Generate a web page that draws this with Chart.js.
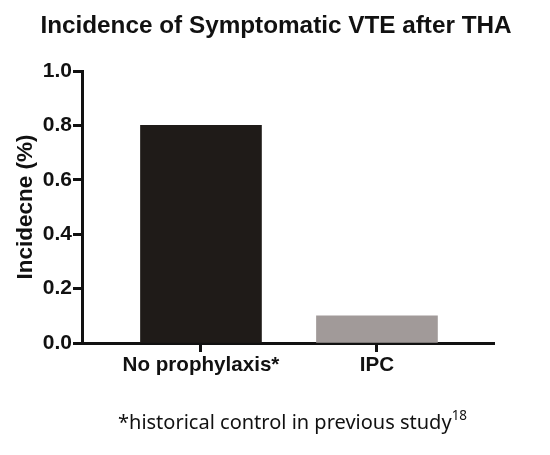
<!DOCTYPE html>
<html lang="en">
<head>
    <meta charset="UTF-8">
    <title>Incidence of Symptomatic VTE after THA</title>
    <script src="https://cdn.jsdelivr.net/npm/chart.js"></script>
    <style>
        body {
            margin: 0;
            background: #ffffff;
        }
        .wrap {
            position: relative;
            width: 550px;
            height: 455px;
        }
        .footnote {
            position: absolute;
            left: 118px;
            top: 408px;
            font-family: 'Noto Sans', sans-serif;
            font-size: 20px;
            color: #111;
            white-space: nowrap;
        }
        .footnote sup {
            font-size: 13.5px;
            vertical-align: 9px;
            line-height: 0;
        }
    </style>
</head>
<body>
    <div class="wrap">
        <canvas id="vteChart" width="550" height="455"></canvas>
        <div class="footnote">*historical control in previous study<sup>18</sup></div>
    </div>

    <script>
        const categories = ['No prophylaxis*', 'IPC'];
        const incidence = [0.80, 0.10];
        const barColors = ['#1f1b18', '#a19a99'];
        const yTicks = [0, 0.2, 0.4, 0.6, 0.8, 1.0];

        const boldFont = "Arial, 'Liberation Sans', sans-serif";

        const ctx = document.getElementById('vteChart').getContext('2d');
        const chart = new Chart(ctx, {
            type: 'bar',
            data: {
                datasets: [{
                    data: incidence.map((v, i) => ({ x: i, y: v })),
                    backgroundColor: barColors,
                    borderWidth: 0,
                    barThickness: 121
                }]
            },
            options: {
                responsive: false,
                animation: false,
                layout: {
                    padding: { top: 71, left: 0, right: 56, bottom: 0 }
                },
                plugins: {
                    legend: { display: false },
                    tooltip: { enabled: false },
                    title: { display: false }
                },
                scales: {
                    x: {
                        type: 'linear',
                        min: -0.676,
                        max: 1.665,
                        offset: false,
                        afterBuildTicks: (scale) => {
                            scale.ticks = categories.map((c, i) => ({ value: i }));
                        },
                        afterFit: (scale) => { scale.height = 112; },
                        ticks: {
                            autoSkip: false,
                            maxRotation: 0,
                            padding: 1,
                            color: '#111',
                            font: { family: boldFont, size: 20.6, weight: 'bold' },
                            callback: (v) => categories[v]
                        },
                        grid: {
                            offset: false,
                            drawOnChartArea: false,
                            drawTicks: true,
                            tickLength: 9,
                            tickWidth: 3,
                            tickColor: '#111'
                        },
                        border: { display: true, width: 3, color: '#111' }
                    },
                    y: {
                        min: 0,
                        max: 1.0,
                        afterBuildTicks: (scale) => {
                            scale.ticks = yTicks.map(v => ({ value: v }));
                        },
                        afterFit: (scale) => { scale.width = 82; },
                        ticks: {
                            padding: 1,
                            color: '#111',
                            font: { family: boldFont, size: 21, weight: 'bold' },
                            callback: (v) => v.toFixed(1)
                        },
                        grid: {
                            offset: false,
                            drawOnChartArea: false,
                            drawTicks: true,
                            tickLength: 9,
                            tickWidth: 3,
                            tickColor: '#111'
                        },
                        border: { display: true, width: 3, color: '#111' },
                        title: {
                            display: true,
                            text: 'Incidecne (%)',
                            color: '#111',
                            padding: { top: 12, bottom: 0 },
                            font: { family: boldFont, size: 22.5, weight: 'bold' }
                        }
                    }
                }
            },
            plugins: [{
                id: 'topTitle',
                afterDraw(c) {
                    const g = c.ctx;
                    g.save();
                    g.fillStyle = '#111';
                    g.font = "bold 24.3px " + boldFont;
                    g.textAlign = 'center';
                    g.textBaseline = 'alphabetic';
                    g.fillText('Incidence of Symptomatic VTE after THA', 276, 33);
                    g.restore();
                }
            }]
        });
    </script>
</body>
</html>
